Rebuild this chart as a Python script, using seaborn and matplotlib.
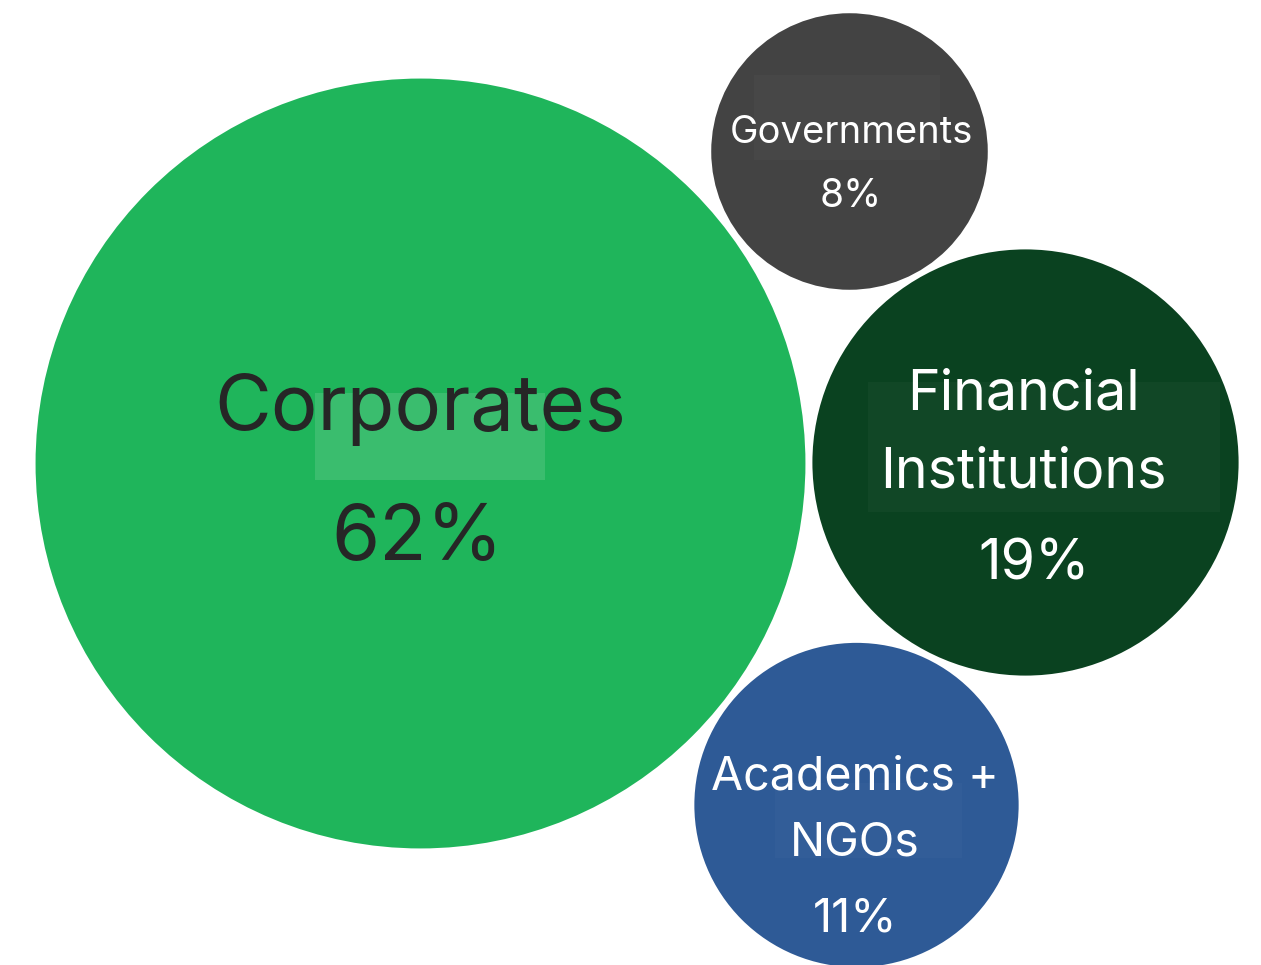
import numpy as np
import pandas as pd
import matplotlib
matplotlib.use("Agg")
import matplotlib.pyplot as plt
import seaborn as sns
from matplotlib.patches import Rectangle

# ── data ──────────────────────────────────────────────
groups = ["Corporates", "Governments", "Financial Institutions", "Academics + NGOs"]
labels = ["Corporates", "Governments", "Financial\nInstitutions", "Academics +\nNGOs"]
shares = [62, 8, 19, 11]
colors = ["#1fb55b", "#434343", "#0a4220", "#2e5a96"]
text_colors = ["#262626", "white", "white", "white"]

# bubble centres (pixel layout of the packed bubbles)
pos_x = [420.5, 849.5, 1025.5, 856.5]
pos_y = [463.5, 151.5, 462.5, 805.0]

# ── layout ────────────────────────────────────────────
W, H, DPI = 1261, 965, 100
PX_PER_PCT = 2390.0                     # r^2 (px^2) per percentage point
PT2_PER_PCT = (2 * 0.72) ** 2 * PX_PER_PCT  # marker area in pt^2 per %

font_sizes = [56, 27.5, 40, 33.5]
value_sizes = [56, 28, 40, 34]
# baselines of each label line and of the value, in pixels
label_baselines = [[430], [143], [410, 487], [789, 855]]
label_x = [420, 851, 1023, 855]
value_baseline = [560, 207, 580, 932]
value_x = [417, 851, 1034, 855]

# faint text-background boxes seen in the original (x, y, w, h, alpha)
boxes = [
    (315, 393, 230, 87, 0.12),
    (754, 75, 186, 85, 0.025),
    (868, 382, 352, 130, 0.03),
    (775, 783, 187, 75, 0.02),
]

df = pd.DataFrame({"group": groups, "share": shares, "x": pos_x, "y": pos_y})

sns.set_theme(style="white")
plt.rcParams["font.family"] = ["Inter", "DejaVu Sans"]

fig = plt.figure(figsize=(W / DPI, H / DPI), dpi=DPI)
ax = fig.add_axes([0, 0, 1, 1])

sns.scatterplot(
    data=df, x="x", y="y", hue="group",
    palette=dict(zip(groups, colors)),
    size="share", sizes=(8 * PT2_PER_PCT, 62 * PT2_PER_PCT), size_norm=(8, 62),
    linewidth=0, legend=False, ax=ax, zorder=2,
)

for bx, by, bw, bh, a in boxes:
    ax.add_patch(Rectangle((bx, by), bw, bh, facecolor="white", alpha=a,
                           edgecolor="none", zorder=3))

for i, lab in enumerate(labels):
    for line, base in zip(lab.split("\n"), label_baselines[i]):
        ax.text(label_x[i], base, line, ha="center", va="baseline",
                fontsize=font_sizes[i], color=text_colors[i], zorder=4)
    ax.text(value_x[i], value_baseline[i], f"{shares[i]}%", ha="center",
            va="baseline", fontsize=value_sizes[i], color=text_colors[i], zorder=4)

ax.set_xlim(0, W)
ax.set_ylim(H, 0)
ax.axis("off")

fig.savefig("out.png", dpi=DPI, facecolor="white")
